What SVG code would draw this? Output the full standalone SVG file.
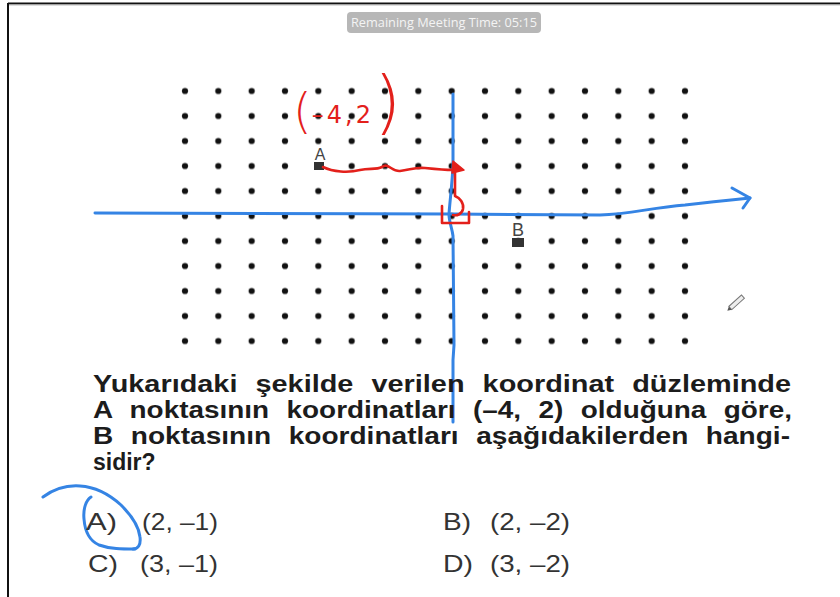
<svg xmlns="http://www.w3.org/2000/svg" width="840" height="597" viewBox="0 0 840 597">
  <defs>
    <pattern id="dots" patternUnits="userSpaceOnUse" x="168.33" y="78.5" width="33.333" height="25">
      <circle cx="16.667" cy="12.5" r="3.1" fill="#111"/>
    </pattern>
    <style>
      .q { font-family: "Liberation Sans", Arial, sans-serif; font-weight: bold; font-size: 23px; fill: #1c1c1c; }
      .ans { font-family: "Liberation Sans", Arial, sans-serif; font-size: 24px; fill: #333; }
      .lbl { font-family: "Liberation Sans", Arial, sans-serif; fill: #444; text-anchor: middle; }
      .blue { fill: none; stroke: #3584e4; stroke-width: 3; stroke-linecap: round; stroke-linejoin: round; }
      .red { fill: none; stroke: #e3201b; stroke-width: 2.6; stroke-linecap: round; stroke-linejoin: round; }
    </style>
  </defs>

  <rect x="0" y="0" width="840" height="597" fill="#ffffff"/>
  <!-- frame -->
  <line x1="8" y1="3.5" x2="840" y2="3.5" stroke="#111" stroke-width="2"/>
  <line x1="8" y1="3" x2="8" y2="597" stroke="#111" stroke-width="2"/>
  <line x1="9" y1="5" x2="840" y2="5" stroke="#bbb" stroke-width="1"/>

  <!-- timer -->
  <g id="timer">
    <rect x="347" y="12" width="194" height="21" rx="4" fill="#b7b7b7"/>
    <text x="444" y="27" text-anchor="middle" font-family="'Open Sans', 'Noto Sans', sans-serif" font-size="12" fill="#f4f4f4" textLength="186" lengthAdjust="spacingAndGlyphs">Remaining Meeting Time: 05:15</text>
  </g>

  <!-- dot grid -->
  <rect id="grid" x="168.33" y="78.5" width="533.33" height="275" fill="url(#dots)"/>

  <!-- points -->
  <g id="pointA">
    <text class="lbl" x="320" y="160" font-size="16">A</text>
    <rect x="314" y="162" width="10" height="8" fill="#333"/>
  </g>
  <g id="pointB">
    <text class="lbl" x="518" y="236" font-size="18">B</text>
    <rect x="512" y="238" width="12" height="9" fill="#333"/>
  </g>

  <!-- blue ink -->
  <g id="blue-ink">
    <path class="blue" d="M95,213 C200,213 330,214 452,214 C520,214 560,215 600,215 C630,214 650,208 685,205 C710,202 730,200 750,198"/>
    <path class="blue" d="M732,188 L750,198 L743,208"/>
    <path class="blue" d="M453,94 L453,166 C452,185 450,200 449,214 C449,222 452,228 453,236 L454,345 L453,360 L453,422"/>
    <path class="blue" d="M43,497 C54,489 66,485 80,486 C96,487 110,495 121,505 C132,516 139,527 140,537 C141,545 138,549 133,549"/>
    <path class="blue" d="M91,497 C86,500 83,509 84,519 C85,532 90,541 99,545 C110,549 122,549 135,549"/>
  </g>

  <!-- red ink -->
  <g id="red-ink">
    <path class="red" d="M323,167 C333,172 348,173 360,170 C370,168 376,170 382,167 C388,162 392,172 400,171 C410,170 415,167 425,168 C435,169 445,170 452,170"/>
    <polygon points="453,161 464,170 452,173" fill="#e3201b" stroke="#e3201b" stroke-width="1.5" stroke-linejoin="round"/>
    <path class="red" d="M455,172 L455,196 C460,198 464,203 463,209 C462,214 457,216 453,215"/>
    <path class="red" d="M442,206 L442,223 L469,223 L469,212"/>
    <text x="293" y="128" font-family="'DejaVu Sans', sans-serif" fill="#e3201b"><tspan font-size="48" font-weight="200">(</tspan><tspan font-size="24" dy="-5" letter-spacing="3">–4,2</tspan><tspan font-size="70" font-weight="200" dy="3">)</tspan></text>
  </g>

  <!-- pencil cursor -->
  <g id="pencil" transform="translate(737,302) rotate(-42)">
    <rect x="-9" y="-2.2" width="17" height="4.4" fill="#eee" stroke="#777" stroke-width="1"/>
    <polygon points="-9,-2.2 -13,0 -9,2.2" fill="#555"/>
  </g>

  <!-- question -->
  <g id="question">
    <text class="q" x="93" y="392" textLength="698" lengthAdjust="spacingAndGlyphs" word-spacing="8">Yukarıdaki şekilde verilen koordinat düzleminde</text>
    <text class="q" x="93" y="418" textLength="699" lengthAdjust="spacingAndGlyphs" word-spacing="8">A noktasının koordinatları (–4, 2) olduğuna göre,</text>
    <text class="q" x="93" y="444" textLength="697" lengthAdjust="spacingAndGlyphs" word-spacing="8">B noktasının koordinatları aşağıdakilerden hangi-</text>
    <text class="q" x="93" y="470">sidir?</text>
  </g>

  <!-- answers -->
  <g id="answers">
    <text class="ans" x="86" y="530" textLength="31" lengthAdjust="spacingAndGlyphs">A)</text>
    <text class="ans" x="142" y="530" textLength="76" lengthAdjust="spacingAndGlyphs">(2, –1)</text>
    <text class="ans" x="443" y="530" textLength="28" lengthAdjust="spacingAndGlyphs">B)</text>
    <text class="ans" x="490" y="530" textLength="80" lengthAdjust="spacingAndGlyphs">(2, –2)</text>
    <text class="ans" x="88" y="572" textLength="30" lengthAdjust="spacingAndGlyphs">C)</text>
    <text class="ans" x="140" y="572" textLength="78" lengthAdjust="spacingAndGlyphs">(3, –1)</text>
    <text class="ans" x="443" y="572" textLength="30" lengthAdjust="spacingAndGlyphs">D)</text>
    <text class="ans" x="490" y="572" textLength="80" lengthAdjust="spacingAndGlyphs">(3, –2)</text>
  </g>
</svg>
